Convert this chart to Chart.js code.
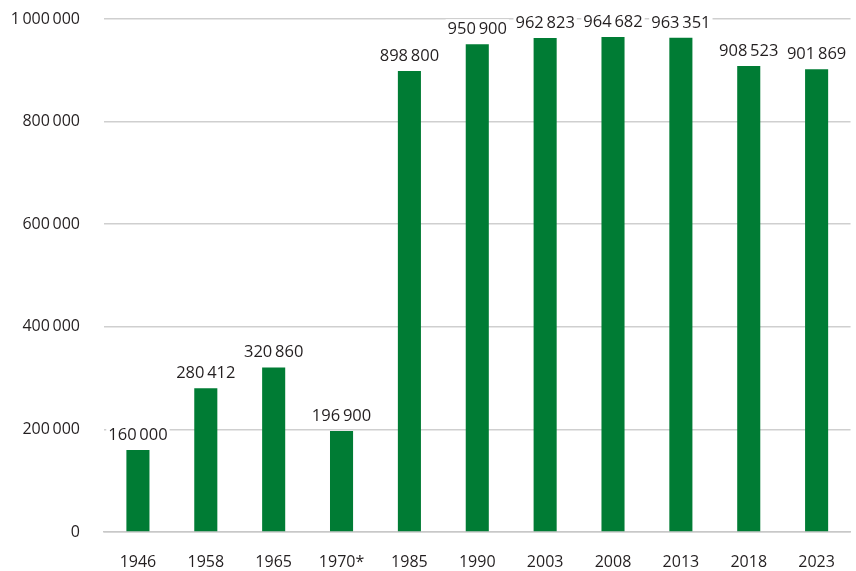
<!DOCTYPE html>
<html>
<head>
<meta charset="utf-8">
<script src="https://cdn.jsdelivr.net/npm/chart.js@4/dist/chart.umd.min.js"></script>
<style>
  html, body { margin: 0; padding: 0; background: #fff; }
  #wrap { width: 856px; height: 571px; }
</style>
</head>
<body>
<div id="wrap"><canvas id="myChart" width="856" height="571"></canvas></div>
<script>
"use strict";

const years = ["1946", "1958", "1965", "1970*", "1985", "1990", "2003", "2008", "2013", "2018", "2023"];
const values = [160000, 280412, 320860, 196900, 898800, 950900, 962823, 964682, 963351, 908523, 901869];
const yTicks = [0, 200000, 400000, 600000, 800000, 1000000];

const green = "#007c34";
const textColor = "#231f20";
const fontFamily = "'Open Sans', 'Noto Sans', sans-serif";

// 1 000 000 style
function fmt(v) {
  return String(v).replace(/\B(?=(\d{3})+(?!\d))/g, "\u2009");
}

// value labels above bars, on a white box so the gridlines break behind them
const valueLabels = {
  id: "valueLabels",
  afterDatasetsDraw(chart) {
    const ctx = chart.ctx;
    const meta = chart.getDatasetMeta(0);
    ctx.save();
    ctx.font = "16.5px " + fontFamily;
    ctx.textAlign = "center";
    ctx.textBaseline = "middle";
    meta.data.forEach((bar, i) => {
      const txt = fmt(values[i]);
      const w = ctx.measureText(txt).width;
      const y = bar.y - 15;
      ctx.fillStyle = "#fff";
      ctx.fillRect(bar.x - w / 2 - 2, y - 10, w + 4, 20);
      ctx.fillStyle = textColor;
      ctx.fillText(txt, bar.x, y);
    });
    ctx.restore();
  }
};

const config = {
  type: "bar",
  data: {
    labels: years,
    datasets: [{
      data: values,
      backgroundColor: green,
      borderWidth: 0,
      barPercentage: 0.34,
      categoryPercentage: 1.0
    }]
  },
  options: {
    responsive: false,
    animation: false,
    layout: { padding: { top: 0, right: 2, left: 0, bottom: 0 } },
    plugins: {
      legend: { display: false },
      tooltip: { enabled: false }
    },
    scales: {
      x: {
        grid: { display: false, drawTicks: false },
        border: { color: "#c8c8c8", width: 1.5 },
        ticks: {
          color: textColor,
          font: { family: fontFamily, size: 16 },
          padding: 21
        },
        afterFit(scale) { scale.height = 39; }
      },
      y: {
        min: 0,
        max: 1000000,
        afterBuildTicks(scale) {
          scale.ticks = yTicks.map(v => ({ value: v }));
        },
        grid: { color: "#cfcfcf", lineWidth: 1.5, drawTicks: false },
        border: { display: false },
        ticks: {
          color: textColor,
          font: { family: fontFamily, size: 16 },
          padding: 24,
          callback: v => fmt(v)
        },
        afterFit(scale) {
          scale.width = 104;
          scale.paddingTop = 19;
          scale.paddingBottom = 0;
        }
      }
    }
  },
  plugins: [valueLabels]
};

new Chart(document.getElementById("myChart").getContext("2d"), config);
</script>
</body>
</html>
